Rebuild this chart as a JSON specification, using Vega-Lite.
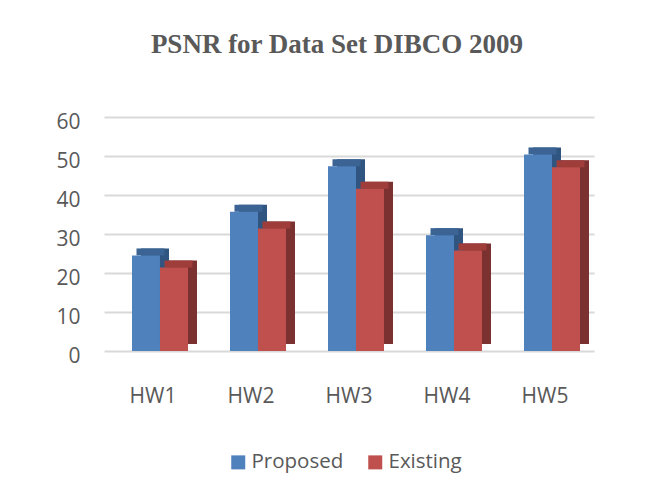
{
  "$schema": "https://vega.github.io/schema/vega-lite/v6.json",
  "width": 490,
  "height": 234,
  "autosize": "none",
  "padding": {"left": 104, "top": 117, "right": 71, "bottom": 149},
  "background": "white",
  "title": {
    "text": "PSNR for Data Set DIBCO 2009",
    "font": "Liberation Serif",
    "fontSize": 27,
    "fontWeight": "bold",
    "color": "#595959",
    "anchor": "middle",
    "offset": 52,
    "dx": -12
  },
  "data": {
    "values": [
      {"hw": "HW1", "series": "Proposed", "psnr": 24.5},
      {"hw": "HW1", "series": "Existing", "psnr": 21.4},
      {"hw": "HW2", "series": "Proposed", "psnr": 35.7},
      {"hw": "HW2", "series": "Existing", "psnr": 31.4},
      {"hw": "HW3", "series": "Proposed", "psnr": 47.4},
      {"hw": "HW3", "series": "Existing", "psnr": 41.6},
      {"hw": "HW4", "series": "Proposed", "psnr": 29.7},
      {"hw": "HW4", "series": "Existing", "psnr": 25.8},
      {"hw": "HW5", "series": "Proposed", "psnr": 50.4},
      {"hw": "HW5", "series": "Existing", "psnr": 47.1}
    ]
  },
  "encoding": {
    "x": {
      "field": "hw",
      "type": "nominal",
      "scale": {"paddingInner": 0.7143, "paddingOuter": 0.3571},
      "axis": {
        "title": null,
        "domain": false,
        "ticks": false,
        "grid": false,
        "labelAngle": 0,
        "labelPadding": 34,
        "labelFont": "Open Sans",
        "labelFontSize": 21,
        "labelColor": "#595959"
      }
    },
    "y": {
      "field": "psnr",
      "type": "quantitative",
      "scale": {"domain": [0, 60]},
      "axis": {
        "title": null,
        "domain": false,
        "ticks": false,
        "values": [0, 10, 20, 30, 40, 50, 60],
        "labelPadding": 24,
        "labelOffset": 5,
        "labelFont": "Open Sans",
        "labelFontSize": 21,
        "labelColor": "#595959",
        "gridColor": "#d9d9d9",
        "gridWidth": 2
      }
    }
  },
  "layer": [
    {
      "transform": [{"filter": "datum.series == 'Proposed'"}],
      "mark": {"type": "bar", "xOffset": 2, "x2Offset": 2, "yOffset": -7, "y2Offset": -7, "color": "#2f5580"}
    },
    {
      "transform": [{"filter": "datum.series == 'Existing'"}],
      "mark": {"type": "bar", "xOffset": 30, "x2Offset": 30, "yOffset": -7, "y2Offset": -7, "color": "#7b3130"}
    },
    {
      "transform": [{"filter": "datum.series == 'Proposed'"}],
      "mark": {"type": "bar", "xOffset": -2.5, "x2Offset": -2.5, "yOffset": -7, "color": "#3b6494"},
      "encoding": {"y2": {"field": "psnr"}}
    },
    {
      "transform": [{"filter": "datum.series == 'Existing'"}],
      "mark": {"type": "bar", "xOffset": 25.5, "x2Offset": 25.5, "yOffset": -7, "color": "#9e3d3a"},
      "encoding": {"y2": {"field": "psnr"}}
    },
    {
      "transform": [{"filter": "datum.series == 'Proposed'"}],
      "mark": {"type": "bar", "xOffset": -7, "x2Offset": -7},
      "encoding": {
        "color": {
          "field": "series",
          "type": "nominal",
          "scale": {"domain": ["Proposed", "Existing"], "range": ["#4f81bd", "#c0504d"]},
          "legend": {
            "title": null,
            "orient": "none",
            "legendX": 124,
            "legendY": 335,
            "direction": "horizontal",
            "symbolType": "square",
            "symbolSize": 196,
            "symbolStrokeWidth": 0,
            "labelFont": "Open Sans",
            "labelFontSize": 20.5,
            "labelColor": "#595959",
            "labelOffset": 3,
            "columnPadding": 21
          }
        }
      }
    },
    {
      "transform": [{"filter": "datum.series == 'Existing'"}],
      "mark": {"type": "bar", "xOffset": 21, "x2Offset": 21},
      "encoding": {
        "color": {
          "field": "series",
          "type": "nominal",
          "scale": {"domain": ["Proposed", "Existing"], "range": ["#4f81bd", "#c0504d"]},
          "legend": null
        }
      }
    }
  ],
  "config": {"view": {"stroke": null}}
}
